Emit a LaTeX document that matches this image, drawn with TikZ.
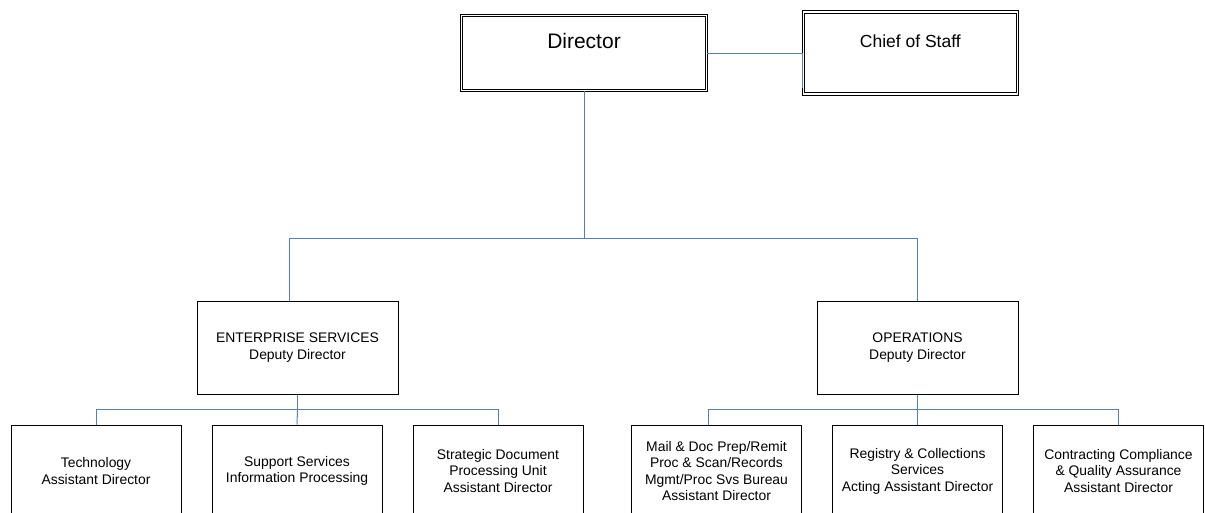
\documentclass[tikz,border=0pt]{standalone}
\usepackage{fontspec}
\setmainfont{Liberation Sans}
\usetikzlibrary{positioning}
\definecolor{orgblue}{RGB}{79,129,189}
\tikzset{every picture/.style={line width=1pt}}

\begin{document}
\begin{tikzpicture}[x=1pt, y=-1pt,
    headbox/.style={draw, rectangle, double, double distance=1.5pt, line width=0.8pt},
    unitbox/.style={draw, rectangle, minimum width=201pt, minimum height=93pt, align=center, font=\fontsize{13.9}{16.5}\selectfont},
    subbox/.style={unitbox, minimum width=170pt, minimum height=92pt},
    link/.style={draw=orgblue, line width=1pt}]
    \useasboundingbox (0,0) rectangle (1205,512);
    \clip (0,0) rectangle (1205,512);

    % Director and staff
    \node[headbox, minimum width=245pt, minimum height=75pt, text height=15pt, text depth=25pt, font=\fontsize{21}{25}\selectfont] (Director) at (584,53) {Director};
    \node[headbox, minimum width=214pt, minimum height=82pt, text height=13pt, text depth=24pt, font=\fontsize{17.5}{21}\selectfont, right=96pt of Director] (Chief) {Chief of Staff};

    % Deputy directors
    \node[unitbox] (ES) at (297.5,347.5) {ENTERPRISE SERVICES\\Deputy Director};
    \node[unitbox] (OPS) at (917.5,347.5) {OPERATIONS\\Deputy Director};

    % Assistant directors
    \node[subbox] (Tech) at (96,471) {Technology\\Assistant Director};
    \node[subbox, right=30pt of Tech] (Support) {Support Services\\Information Processing};
    \node[subbox, right=30pt of Support] (Strategic) {Strategic Document\\Processing Unit\\Assistant Director};
    \node[subbox] (Mail) at (716.5,471) {Mail \& Doc Prep/Remit\\Proc \& Scan/Records\\Mgmt/Proc Svs Bureau\\Assistant Director};
    \node[subbox, right=30pt of Mail] (Registry) {Registry \& Collections\\Services\\Acting Assistant Director};
    \node[subbox, right=30pt of Registry] (Contracting) {Contracting Compliance\\\& Quality Assurance\\Assistant Director};

    % Reporting lines
    \coordinate (topbus) at (584,238);
    \coordinate (esbus) at (297.5,409);
    \coordinate (opsbus) at (917.5,409);

    \draw[link] (Director.east) -- (Chief.west) -- ([yshift=-35pt]Chief.west);
    \draw[link] (Director.south) -- (topbus) -| ([xshift=-8pt]ES.north);
    \draw[link] (topbus) -| (OPS.north);
    \draw[link] (ES.south) -- (esbus) -| (Tech.north);
    \draw[link] (esbus) -| (Strategic.north);
    \draw[link] (esbus) -- (Support.north);
    \draw[link] (OPS.south) -- (opsbus) -| ([xshift=-8pt]Mail.north);
    \draw[link] (opsbus) -| (Contracting.north);
    \draw[link] (opsbus) -- (Registry.north);
\end{tikzpicture}
\end{document}
